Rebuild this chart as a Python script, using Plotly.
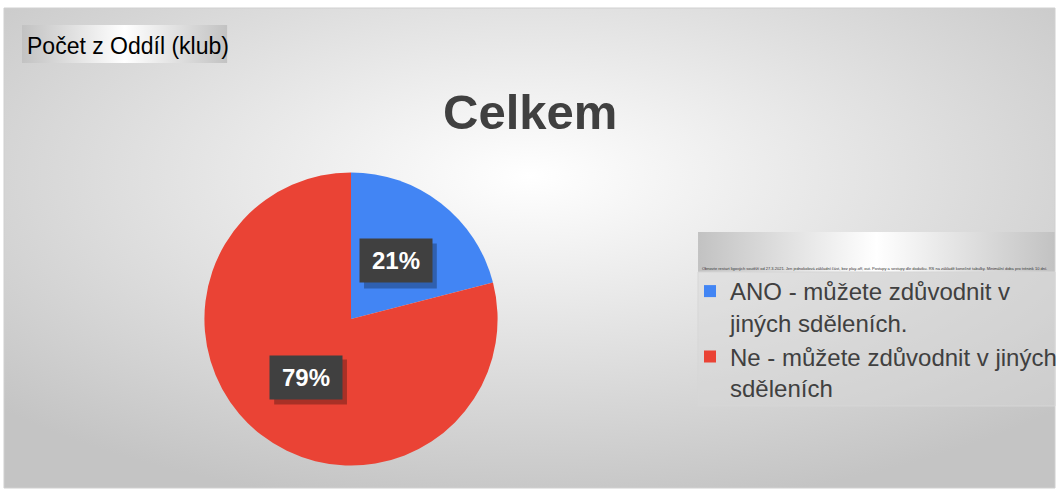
import base64, math
import plotly.graph_objects as go

# ---- data ----
categories = ["ANO - můžete zdůvodnit v<br>jiných sděleních.",
              "Ne - můžete zdůvodnit v jiných<br>sděleních"]
values = [21, 79]
colors = ["#4285F4", "#EA4335"]
title_text = "Celkem"
field_label = "Počet z Oddíl (klub)"
legend_note = ("Obnovte restart ligových soutěží od 27.3.2021. Jen jednokolová základní část, bez play-off, out. "
               "Postupy a sestupy dle dodatku. RS na základě konečné tabulky. Minimální doba pro trénink 10 dní.")

W, H = 1062, 491
PIE_X = [205 / W, 499 / W]
PIE_Y = [1 - 466 / H, 1 - 172 / H]
FONT = "Liberation Sans, Arial, sans-serif"


def svg_uri(svg):
    return "data:image/svg+xml;base64," + base64.b64encode(svg.encode()).decode()


bg_svg = ("<svg xmlns='http://www.w3.org/2000/svg' width='1054' height='480' preserveAspectRatio='none'>"
          "<defs><radialGradient id='g' cx='50%' cy='35%' r='70%'>"
          "<stop offset='0' stop-color='#ffffff'/><stop offset='1' stop-color='#c4c4c4'/>"
          "</radialGradient></defs><rect width='1054' height='480' fill='url(#g)'/></svg>")
band_svg = ("<svg xmlns='http://www.w3.org/2000/svg' width='400' height='40' preserveAspectRatio='none'>"
            "<defs><linearGradient id='b' x1='0' x2='1' y1='0' y2='0'>"
            "<stop offset='0' stop-color='#c2c2c2'/><stop offset='0.5' stop-color='#ffffff'/>"
            "<stop offset='1' stop-color='#c2c2c2'/></linearGradient></defs>"
            "<rect width='400' height='40' fill='url(#b)'/></svg>")

fig = go.Figure(go.Pie(
    labels=categories, values=values, sort=False, direction="clockwise", rotation=0,
    marker=dict(colors=colors, line=dict(width=0)),
    textinfo="none", hoverinfo="label+percent",
    domain=dict(x=PIE_X, y=PIE_Y),
))

# percent label boxes placed at mid-angle of each slice
cx = (PIE_X[0] + PIE_X[1]) / 2 * W
cy = (1 - (PIE_Y[0] + PIE_Y[1]) / 2) * H
R = (PIE_X[1] - PIE_X[0]) * W / 2
BW, BH = 72, 43
total = sum(values)
start = 0.0
annotations = []
shapes = [
    dict(type="rect", xref="paper", yref="paper", x0=4 / W, x1=1058 / W, y0=1 - 488 / H, y1=1 - 8 / H,
         line=dict(color="#d0d0d0", width=1), layer="below"),
    dict(type="rect", xref="paper", yref="paper", x0=700 / W, x1=1058 / W, y0=1 - 406 / H, y1=1 - 272 / H,
         line=dict(color="#d6d6d6", width=1), fillcolor="rgba(215,215,215,0.45)", layer="below"),
]
for v in values:
    frac = v / total
    mid = (start + frac / 2) * 2 * math.pi
    start += frac
    px = cx + 0.5 * R * math.sin(mid)
    py = cy - 0.5 * R * math.cos(mid)
    # soft shadow behind the label box
    shapes.append(dict(type="rect", xref="paper", yref="paper", layer="above",
                       x0=(px - BW / 2 + 4) / W, x1=(px + BW / 2 + 5) / W,
                       y0=1 - (py + BH / 2 + 6) / H, y1=1 - (py - BH / 2 + 4) / H,
                       line=dict(width=0), fillcolor="rgba(0,0,0,0.28)"))
    annotations.append(dict(x=px / W, y=1 - py / H, xref="paper", yref="paper", showarrow=False,
                            xanchor="center", yanchor="middle", width=BW, height=BH,
                            text=f"<b>{round(frac * 100)}%</b>",
                            font=dict(family=FONT, size=24, color="white"),
                            bgcolor="#404040", borderpad=0))

annotations += [
    dict(x=532 / W, y=1 - 112 / H, xref="paper", yref="paper", showarrow=False,
         xanchor="center", yanchor="middle",
         text=f"<b>{title_text}</b>", font=dict(family=FONT, size=49, color="#404040")),
    dict(x=25 / W, y=1 - 46 / H, xref="paper", yref="paper", showarrow=False,
         xanchor="left", yanchor="middle",
         text=field_label, font=dict(family=FONT, size=23, color="#000000")),
    dict(x=702 / W, y=1 - 268 / H, xref="paper", yref="paper", showarrow=False,
         xanchor="left", yanchor="middle",
         text=legend_note, font=dict(family=FONT, size=4, color="#333333")),
]

fig.update_layout(
    width=W, height=H, margin=dict(l=0, r=0, t=0, b=0),
    paper_bgcolor="white", plot_bgcolor="rgba(0,0,0,0)",
    images=[
        dict(source=svg_uri(bg_svg), xref="paper", yref="paper", x=4 / W, y=1 - 8 / H,
             sizex=1054 / W, sizey=480 / H, sizing="stretch", layer="below", xanchor="left", yanchor="top"),
        dict(source=svg_uri(band_svg), xref="paper", yref="paper", x=22 / W, y=1 - 25 / H,
             sizex=206 / W, sizey=38 / H, sizing="stretch", layer="below", xanchor="left", yanchor="top"),
        dict(source=svg_uri(band_svg), xref="paper", yref="paper", x=700 / W, y=1 - 232 / H,
             sizex=358 / W, sizey=40 / H, sizing="stretch", layer="below", xanchor="left", yanchor="top"),
    ],
    shapes=shapes,
    annotations=annotations,
    showlegend=True,
    legend=dict(x=692 / W, y=1 - 269 / H, xanchor="left", yanchor="top", valign="top",
                bgcolor="rgba(0,0,0,0)", font=dict(family=FONT, size=24, color="#404040"),
                itemwidth=30, tracegroupgap=0),
)

fig.write_html("out.html", config={"displayModeBar": False},
               post_script="document.body.style.margin='0';")
